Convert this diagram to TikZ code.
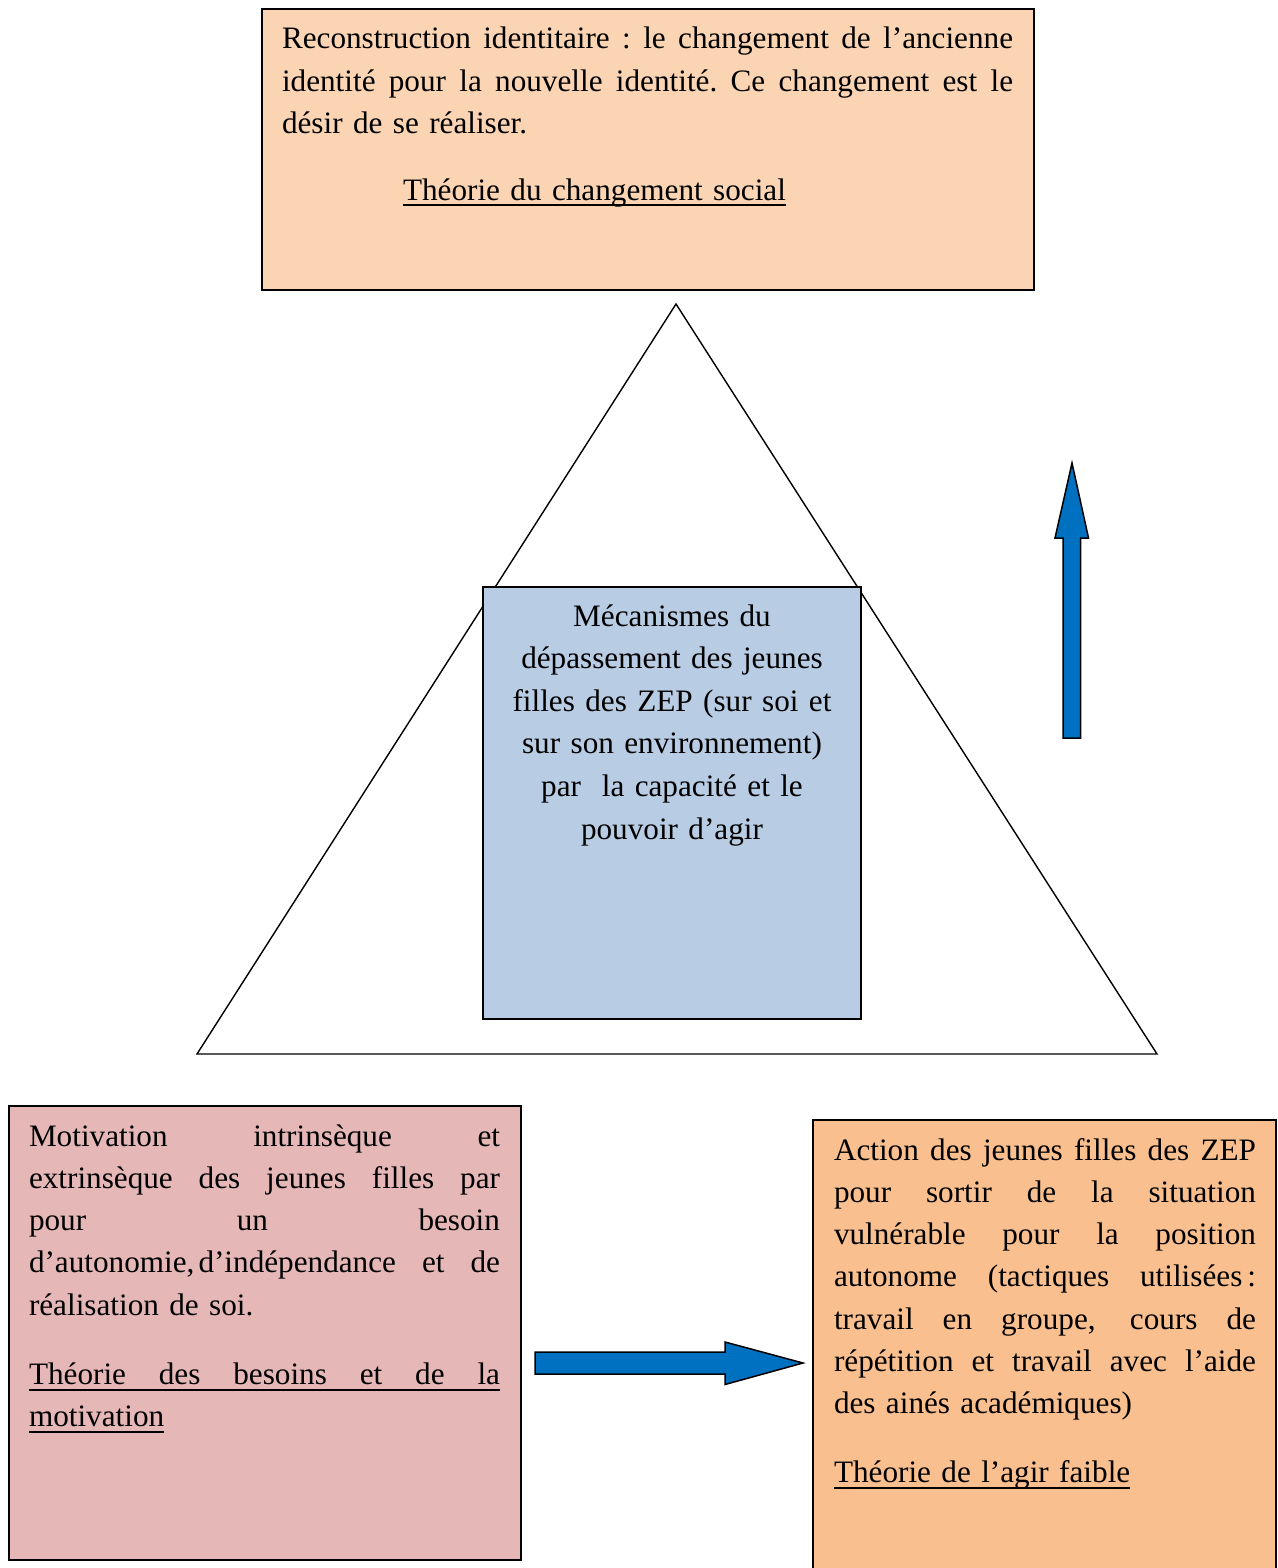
\documentclass[tikz,border=0pt]{standalone}
\usepackage{fontspec}
\setmainfont{Liberation Serif}
\newsavebox\ulbox
\newcommand\ulx[1]{\leavevmode\sbox\ulbox{#1}\rlap{\rule[-6pt]{\wd\ulbox}{1.9pt}}\usebox\ulbox}
\newcommand\jl[1]{\leavevmode\hbox to \linewidth{\spaceskip=0.25em plus 1fil\relax\xspaceskip=0.25em plus 1fil\relax #1}}
\definecolor{toppeach}{HTML}{FBD4B4}
\definecolor{midblue}{HTML}{B8CCE4}
\definecolor{leftpink}{HTML}{E5B8B7}
\definecolor{rightorange}{HTML}{FABF8F}
\definecolor{arrowblue}{HTML}{0070C0}
\tikzset{
  boxstyle/.style={draw=black, line width=1.6pt, inner sep=0pt, outer sep=0pt},
  txt/.style={inner sep=0pt, outer sep=0pt, font=\fontsize{31.2}{42.3}\selectfont},
  blockarrow/.style={fill=arrowblue, draw=black, line width=1.5pt, line join=miter}
}
\begin{document}
\begin{tikzpicture}[x=1pt,y=-1pt]
\useasboundingbox (0,0) rectangle (1277,1568);
% triangle
\coordinate (apex) at (676,304);
\coordinate (bl) at (197,1054);
\coordinate (br) at (1157,1054);
\draw[line width=1.4pt, line join=miter] (apex) -- (br) -- (bl) -- cycle;
% boxes
\node (topbox) [boxstyle, fill=toppeach, minimum width=772pt, minimum height=281pt] at (648,149.5) {};
\node (midbox) [boxstyle, fill=midblue, minimum width=378pt, minimum height=432pt] at (672,803) {};
\node (leftbox) [boxstyle, fill=leftpink, minimum width=512pt, minimum height=454pt] at (265,1333) {};
\node (rightbox) [boxstyle, fill=rightorange, minimum width=463pt, minimum height=470pt] at (1044.5,1355) {};
% texts
\node (toptext) [txt, anchor=base west, text width=731pt] at (282,49) {%
\jl{Reconstruction identitaire~: le changement de l’ancienne}\\
\jl{identité pour la nouvelle identité. Ce changement est le}\\
désir de se réaliser.\\[24.5pt]
\hspace*{121pt}\ulx{Théorie du changement social}};
\node (midtext) [txt, anchor=base, text width=378pt, align=center, font=\fontsize{31.2}{42.6}\selectfont] at (672,626) {%
Mécanismes du\\
dépassement des jeunes\\
filles des ZEP (sur soi et\\
sur son environnement)\\
par\ \ la capacité et le\\
pouvoir d’agir};
\node (lefttext) [txt, anchor=base west, text width=471pt] at (29,1146) {%
\jl{Motivation intrinsèque et}\\
\jl{extrinsèque des jeunes filles par}\\
\jl{pour un besoin}\\
\jl{d’autonomie,\kern4pt d’indépendance et de}\\
réalisation de soi.\\[27pt]
\ulx{\jl{Théorie des besoins et de la}}\\
\ulx{motivation}};
\node (righttext) [txt, anchor=base west, text width=422pt] at (834,1160) {%
\jl{Action des jeunes filles des ZEP}\\
\jl{pour sortir de la situation}\\
\jl{vulnérable pour la position}\\
\jl{autonome (tactiques utilisées\kern5pt:}\\
\jl{travail en groupe, cours de}\\
\jl{répétition et travail avec l’aide}\\
des ainés académiques)\\[26.5pt]
\ulx{Théorie de l’agir faible}};
% arrows
\draw[blockarrow] (1063,738) -- (1080.5,738) -- (1080.5,538) -- (1088.5,538) -- (1072,463) -- (1055,538) -- (1063,538) -- cycle;
\draw[blockarrow] (535,1352) -- (725,1352) -- (725,1342) -- (803,1363) -- (725,1384.5) -- (725,1374) -- (535,1374) -- cycle;
\end{tikzpicture}
\end{document}
